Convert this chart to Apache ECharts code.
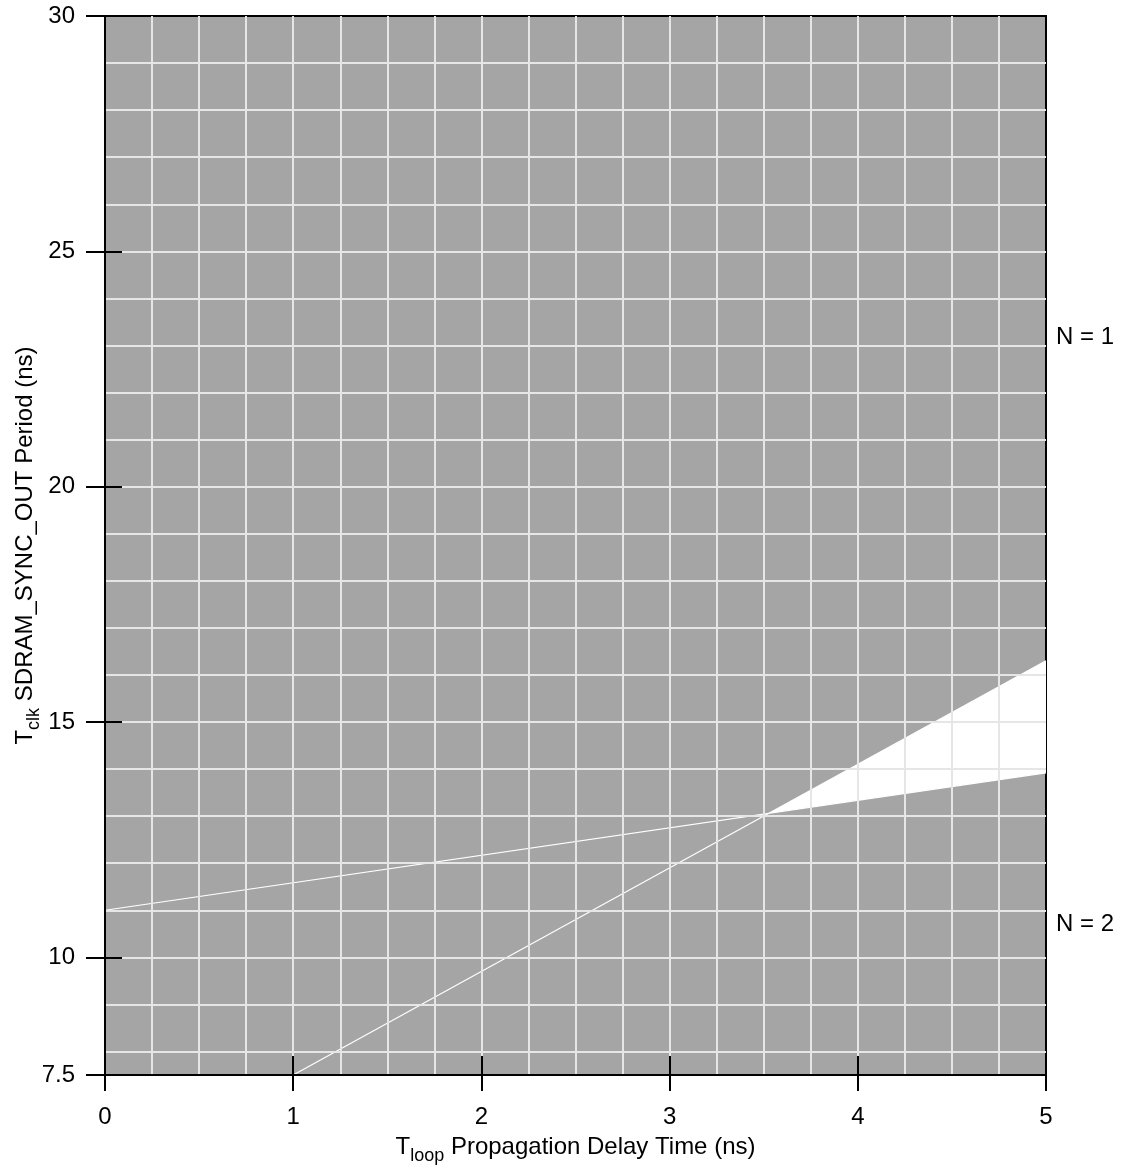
<!DOCTYPE html>
<html>
<head>
<meta charset="utf-8">
<script src="https://cdn.jsdelivr.net/npm/echarts@6/dist/echarts.min.js"></script>
<style>
html,body{margin:0;padding:0;background:#fff;}
#chart{width:1122px;height:1169px;}
</style>
</head>
<body>
<div id="chart"></div>
<script>
// ---- data ----
var xRange = [0, 5];
var yRange = [7.5, 30];
var xTickValues = [0, 1, 2, 3, 4, 5];
var yTickValues = [7.5, 10, 15, 20, 25, 30];
var gridXValues = [0.25, 0.5, 0.75, 1, 1.25, 1.5, 1.75, 2, 2.25, 2.5, 2.75, 3, 3.25, 3.5, 3.75, 4, 4.25, 4.5, 4.75];
var gridYValues = [8, 9, 10, 11, 12, 13, 14, 15, 16, 17, 18, 19, 20, 21, 22, 23, 24, 25, 26, 27, 28, 29];
var lineN1 = [[0, 11.0], [5, 13.92]];   // lower boundary
var lineN2 = [[1.0, 7.5], [5, 16.3]];   // upper boundary
var regionLabels = ['N = 1', 'N = 2'];

// intersection of the two boundary lines
function lineAt(l, x) { var s = (l[1][1] - l[0][1]) / (l[1][0] - l[0][0]); return l[0][1] + s * (x - l[0][0]); }
function intersect(a, b) {
  var sa = (a[1][1] - a[0][1]) / (a[1][0] - a[0][0]);
  var sb = (b[1][1] - b[0][1]) / (b[1][0] - b[0][0]);
  var x = (b[0][1] - sb * b[0][0] - a[0][1] + sa * a[0][0]) / (sa - sb);
  return [x, lineAt(a, x)];
}
var cross = intersect(lineN1, lineN2);
var validRegion = [cross, [xRange[1], lineAt(lineN2, xRange[1])], [xRange[1], lineAt(lineN1, xRange[1])]];

var FONT = 'Liberation Sans, Arial, Helvetica, sans-serif';
var FS = 24;
var SUB = 18;

var chart = echarts.init(document.getElementById('chart'), null, {renderer: 'canvas'});

function xAxisBase(extra) {
  return Object.assign({
    type: 'value', min: xRange[0], max: xRange[1], interval: 1, position: 'bottom', z: 10,
    axisLine: {show: true, onZero: false, lineStyle: {color: '#000', width: 2}},
    splitLine: {show: false}
  }, extra);
}
function yAxisBase(extra) {
  return Object.assign({
    type: 'value', min: yRange[0], max: yRange[1], position: 'left', z: 10,
    axisLine: {show: true, onZero: false, lineStyle: {color: '#000', width: 2}},
    splitLine: {show: false}
  }, extra);
}
var richName = {
  t: {fontSize: FS, fontFamily: FONT, color: '#000', lineHeight: 30, verticalAlign: 'top'},
  s: {fontSize: SUB, fontFamily: FONT, color: '#000', lineHeight: 24, verticalAlign: 'bottom'}
};

var option = {
  animation: false,
  backgroundColor: '#fff',
  grid: {left: 105, right: 76, top: 16, bottom: 94, show: true, containLabel: false, outerBoundsMode: 'none',
         backgroundColor: '#a5a5a5', borderColor: '#000', borderWidth: 2, z: 0},
  textStyle: {fontFamily: FONT},
  xAxis: [
    xAxisBase({
      axisTick: {show: true, inside: false, length: 16, lineStyle: {color: '#000', width: 2}},
      axisLabel: {show: true, color: '#000', fontSize: FS, fontFamily: FONT, margin: 30},
      name: '{t|T}{s|loop}{t| Propagation Delay Time (ns)}',
      nameLocation: 'middle', nameGap: 60, nameMoveOverlap: false,
      nameTextStyle: {rich: richName}
    }),
    xAxisBase({
      axisLine: {show: false},
      axisTick: {show: true, inside: true, length: 19, lineStyle: {color: '#000', width: 2}},
      axisLabel: {show: false}
    })
  ],
  yAxis: [
    yAxisBase({
      axisTick: {show: true, inside: false, length: 19, customValues: yTickValues, lineStyle: {color: '#000', width: 2}},
      axisLabel: {show: true, color: '#000', fontSize: FS, fontFamily: FONT, margin: 30, customValues: yTickValues},
      name: '{t|T}{s|clk}{t| SDRAM_SYNC_OUT Period (ns)}',
      nameLocation: 'middle', nameGap: 62, nameRotate: 90, nameMoveOverlap: false,
      nameTextStyle: {rich: richName}
    }),
    yAxisBase({
      axisLine: {show: false},
      axisTick: {show: true, inside: true, length: 17, customValues: yTickValues, lineStyle: {color: '#000', width: 2}},
      axisLabel: {show: false, customValues: yTickValues}
    })
  ],
  series: [
    {
      type: 'custom', z: 1, silent: true, clip: true,
      data: [validRegion[0]],
      renderItem: function (params, api) {
        return {
          type: 'polygon',
          shape: {points: validRegion.map(function (p) { return api.coord(p); })},
          style: {fill: '#ffffff', stroke: null}
        };
      }
    },
    {
      type: 'line', z: 2, data: lineN1, symbol: 'none', silent: true, clip: true,
      lineStyle: {color: '#ffffff', width: 1.2}
    },
    {
      type: 'line', z: 2, data: lineN2, symbol: 'none', silent: true, clip: true,
      lineStyle: {color: '#ffffff', width: 1.2}
    },
    {
      type: 'line', z: 3, data: [], silent: true,
      markLine: {
        silent: true, symbol: ['none', 'none'], animation: false,
        label: {show: false},
        lineStyle: {color: '#e6e6e6', width: 2, type: 'solid'},
        emphasis: {disabled: true},
        data: gridXValues.map(function (v) { return {xAxis: v}; })
          .concat(gridYValues.map(function (v) { return {yAxis: v}; }))
      }
    }
  ],
  graphic: [
    {type: 'text', left: 1056, top: 325, style: {text: regionLabels[0], fontSize: FS, fontFamily: FONT, fill: '#000'}},
    {type: 'text', left: 1056, top: 912, style: {text: regionLabels[1], fontSize: FS, fontFamily: FONT, fill: '#000'}}
  ]
};
chart.setOption(option);
</script>
</body>
</html>
